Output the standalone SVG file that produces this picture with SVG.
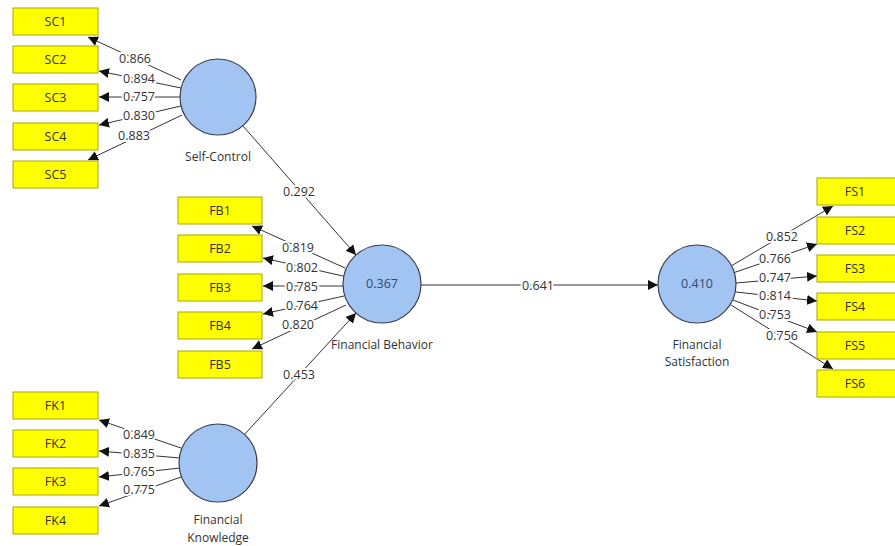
<svg xmlns="http://www.w3.org/2000/svg" width="895" height="546" viewBox="0 0 895 546">
<defs>
<marker id="ah" viewBox="0 0 10 10" refX="10" refY="5" markerWidth="10" markerHeight="10" markerUnits="userSpaceOnUse" orient="auto">
<path d="M0,0 L10,5 L0,10 Z" fill="#111"/>
</marker>
</defs>
<style>
.ind rect{fill:#FFFF00;stroke:#A8A800;stroke-width:1}
.ind text{font-family:"Open Sans","Liberation Sans",sans-serif;font-size:12.5px;fill:#333;text-anchor:middle}
.lat circle{fill:#A2C4F2;stroke:#3C3C4C;stroke-width:1.2}
.lat text{font-family:"Open Sans","Liberation Sans",sans-serif;font-size:12px;fill:#333;text-anchor:middle}
.lat .v{fill:#2E4A6E;font-size:12.5px}
#connectors line{stroke:#333;stroke-width:1;marker-end:url(#ah)}
#labels text{font-family:"Open Sans","Liberation Sans",sans-serif;font-size:12.5px;fill:#333;text-anchor:middle;stroke:#fff;stroke-width:4;paint-order:stroke;stroke-linejoin:round}
</style>
<rect width="895" height="546" fill="#fff"/>
<g id="connectors">
<line x1="181" y1="80" x2="88" y2="37"/>
<line x1="181" y1="88" x2="99" y2="71"/>
<line x1="180" y1="97" x2="99" y2="97"/>
<line x1="181" y1="106" x2="99" y2="125"/>
<line x1="182" y1="115" x2="88" y2="160"/>
<line x1="345" y1="268" x2="252" y2="226"/>
<line x1="343" y1="276" x2="263" y2="258"/>
<line x1="343" y1="286" x2="263" y2="286"/>
<line x1="344" y1="296" x2="263" y2="314"/>
<line x1="346" y1="305" x2="252" y2="349"/>
<line x1="181" y1="448" x2="99" y2="420"/>
<line x1="180" y1="458" x2="99" y2="451"/>
<line x1="180" y1="468" x2="99" y2="477"/>
<line x1="181" y1="477" x2="99" y2="506"/>
<line x1="731" y1="266" x2="833" y2="206"/>
<line x1="733" y1="273" x2="817" y2="244"/>
<line x1="736" y1="283" x2="817" y2="276"/>
<line x1="736" y1="292" x2="817" y2="301"/>
<line x1="733" y1="300" x2="817" y2="332"/>
<line x1="731" y1="305" x2="833" y2="369"/>
<line x1="243" y1="126" x2="356" y2="255"/>
<line x1="244" y1="435" x2="356" y2="313"/>
<line x1="421" y1="285" x2="658" y2="285"/>
</g>
<g id="labels">
<text x="135" y="63">0.866</text>
<text x="139" y="83">0.894</text>
<text x="139" y="101">0.757</text>
<text x="139" y="120">0.830</text>
<text x="134" y="140">0.883</text>
<text x="298" y="252">0.819</text>
<text x="302" y="272">0.802</text>
<text x="302" y="291">0.785</text>
<text x="302" y="310">0.764</text>
<text x="298" y="329">0.820</text>
<text x="139" y="439">0.849</text>
<text x="139" y="458">0.835</text>
<text x="139" y="476">0.765</text>
<text x="139" y="494">0.775</text>
<text x="782" y="241">0.852</text>
<text x="775" y="263">0.766</text>
<text x="775" y="282">0.747</text>
<text x="775" y="300">0.814</text>
<text x="775" y="319">0.753</text>
<text x="782" y="340">0.756</text>
<text x="299" y="196">0.292</text>
<text x="299" y="379">0.453</text>
<text x="538" y="290">0.641</text>
</g>
<g id="SC1" class="ind"><rect x="13" y="8" width="85" height="27"/><text x="55.5" y="26">SC1</text></g>
<g id="SC2" class="ind"><rect x="13" y="46" width="85" height="27"/><text x="55.5" y="64">SC2</text></g>
<g id="SC3" class="ind"><rect x="13" y="84" width="85" height="27"/><text x="55.5" y="102">SC3</text></g>
<g id="SC4" class="ind"><rect x="13" y="123" width="85" height="27"/><text x="55.5" y="141">SC4</text></g>
<g id="SC5" class="ind"><rect x="13" y="161" width="85" height="27"/><text x="55.5" y="179">SC5</text></g>
<g id="FB1" class="ind"><rect x="178" y="197" width="84" height="27"/><text x="220" y="215">FB1</text></g>
<g id="FB2" class="ind"><rect x="178" y="235" width="84" height="27"/><text x="220" y="253">FB2</text></g>
<g id="FB3" class="ind"><rect x="178" y="274" width="84" height="27"/><text x="220" y="292">FB3</text></g>
<g id="FB4" class="ind"><rect x="178" y="312" width="84" height="27"/><text x="220" y="330">FB4</text></g>
<g id="FB5" class="ind"><rect x="178" y="351" width="84" height="27"/><text x="220" y="369">FB5</text></g>
<g id="FK1" class="ind"><rect x="13" y="392" width="85" height="27"/><text x="55.5" y="410">FK1</text></g>
<g id="FK2" class="ind"><rect x="13" y="430" width="85" height="27"/><text x="55.5" y="448">FK2</text></g>
<g id="FK3" class="ind"><rect x="13" y="468" width="85" height="27"/><text x="55.5" y="486">FK3</text></g>
<g id="FK4" class="ind"><rect x="13" y="507" width="85" height="27"/><text x="55.5" y="525">FK4</text></g>
<g id="FS1" class="ind"><rect x="817" y="178" width="80" height="27"/><text x="855" y="196">FS1</text></g>
<g id="FS2" class="ind"><rect x="817" y="217" width="80" height="27"/><text x="855" y="235">FS2</text></g>
<g id="FS3" class="ind"><rect x="817" y="255" width="80" height="27"/><text x="855" y="273">FS3</text></g>
<g id="FS4" class="ind"><rect x="817" y="293" width="80" height="27"/><text x="855" y="311">FS4</text></g>
<g id="FS5" class="ind"><rect x="817" y="332" width="80" height="27"/><text x="855" y="350">FS5</text></g>
<g id="FS6" class="ind"><rect x="817" y="370" width="80" height="27"/><text x="855" y="388">FS6</text></g>
<g id="SelfControl" class="lat"><circle cx="218" cy="97" r="38"/><text x="218" y="161">Self-Control</text></g>
<g id="FinancialBehavior" class="lat"><circle cx="382" cy="284" r="39"/><text class="v" x="382" y="288">0.367</text><text x="382" y="349">Financial Behavior</text></g>
<g id="FinancialKnowledge" class="lat"><circle cx="218" cy="463" r="39"/><text x="218" y="524">Financial</text><text x="218" y="542">Knowledge</text></g>
<g id="FinancialSatisfaction" class="lat"><circle cx="697" cy="284" r="39"/><text class="v" x="697" y="288">0.410</text><text x="697" y="349">Financial</text><text x="697" y="366">Satisfaction</text></g>
</svg>
